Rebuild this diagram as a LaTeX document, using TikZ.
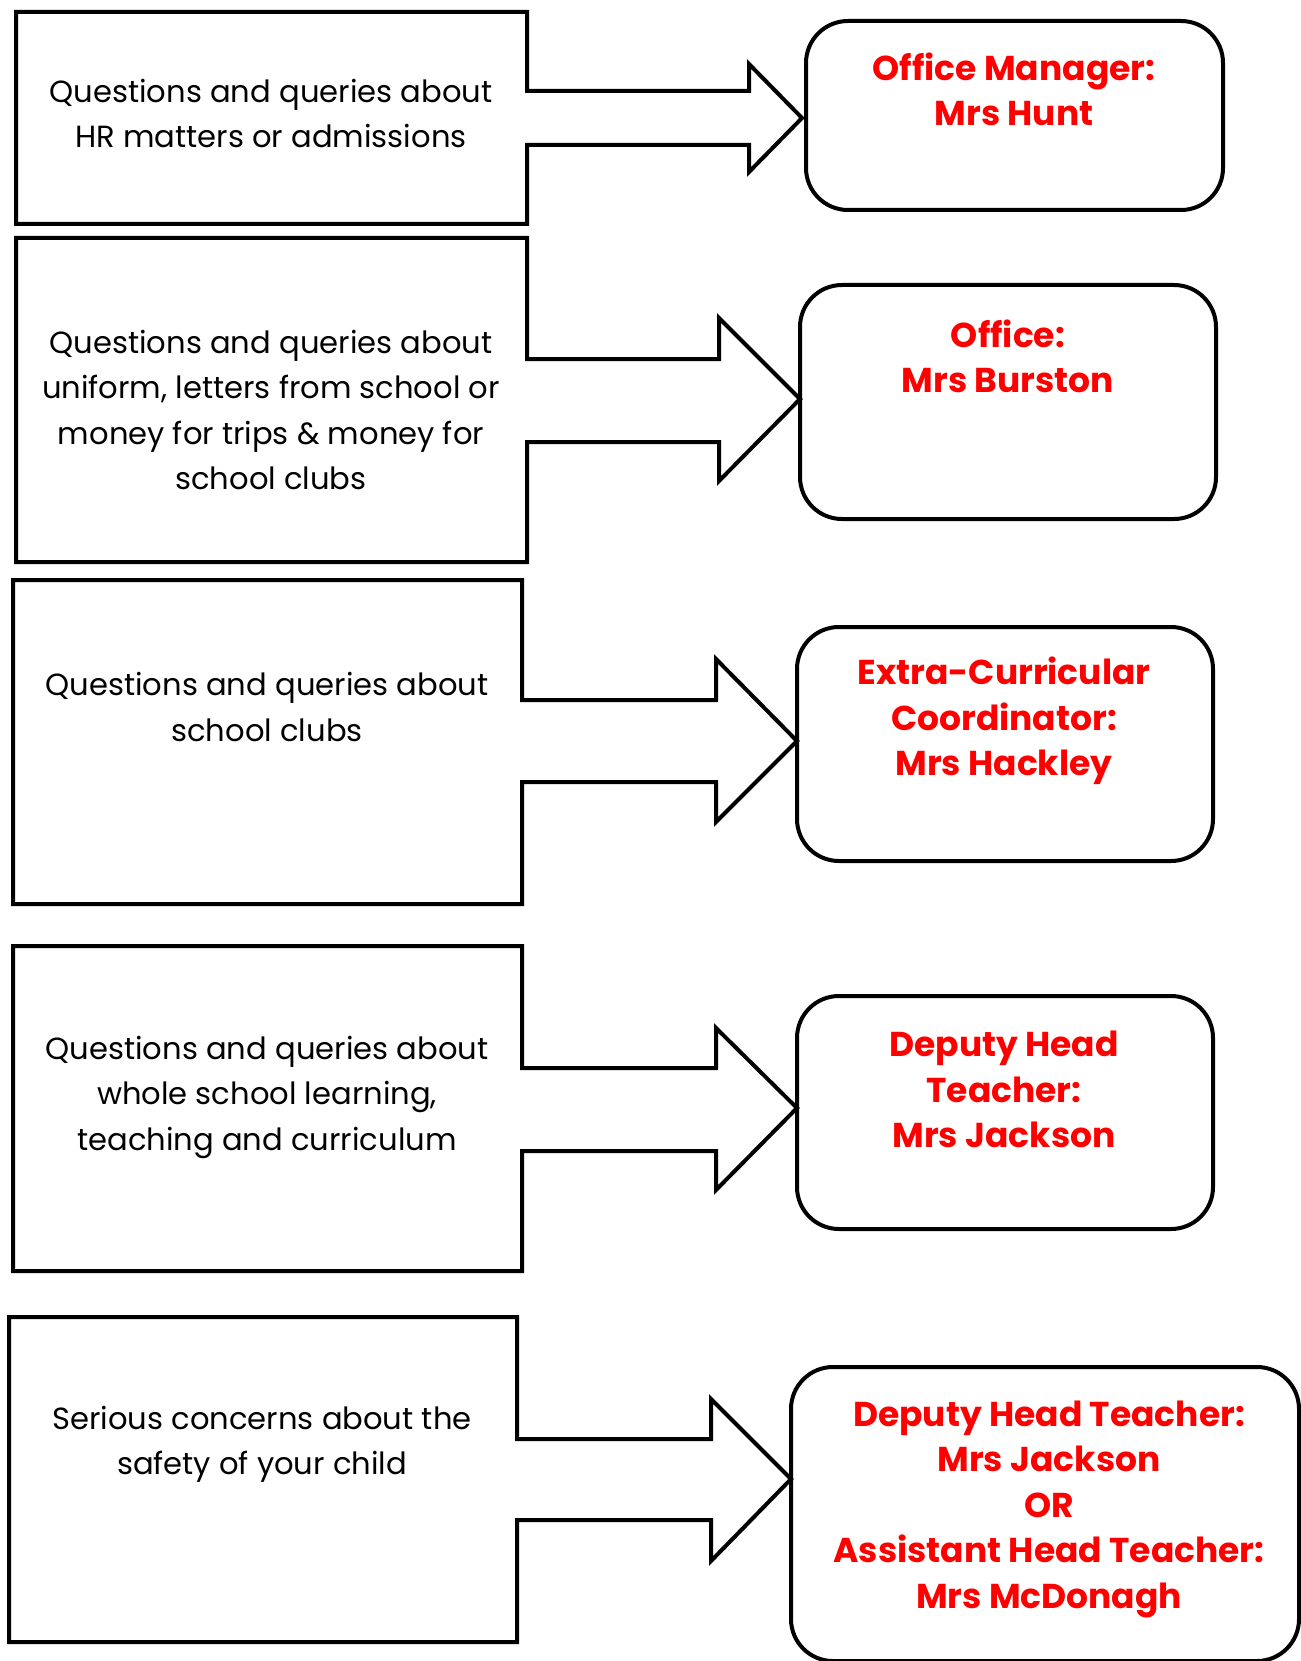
\documentclass[tikz,border=0pt]{standalone}
\usepackage{fontspec}
\setmainfont{Poppins}
\definecolor{redtxt}{RGB}{255,0,0}
\begin{document}
\begin{tikzpicture}[x=1pt,y=-1pt,
  shapeline/.style={line width=4pt, line join=miter},
  qtext/.style={align=center, font=\fontsize{30.6}{45.5}\selectfont, inner sep=0pt},
  who/.style={align=center, font=\fontsize{34.5}{45.5}\selectfont\bfseries, text=redtxt, inner sep=0pt},
  rbox/.style={draw, line width=4pt, rounded corners=42pt, inner sep=0pt}]
\useasboundingbox (0,0) rectangle (1300,1661);
% callout shapes
\draw[shapeline] (16,12) -- (527,12) -- (527,91) -- (749,91) -- (749,64) -- (802,118) -- (749,172) -- (749,145) -- (527,145) -- (527,224) -- (16,224) -- cycle;
\draw[shapeline] (16,238) -- (527,238) -- (527,359) -- (719,359) -- (719,318) -- (800,399) -- (719,481) -- (719,442) -- (527,442) -- (527,562) -- (16,562) -- cycle;
\draw[shapeline] (13,580) -- (522,580) -- (522,700) -- (716,700) -- (716,659) -- (797,741) -- (716,822) -- (716,782) -- (522,782) -- (522,904) -- (13,904) -- cycle;
\draw[shapeline] (13,946) -- (522,946) -- (522,1068) -- (716,1068) -- (716,1028) -- (797,1108) -- (716,1190) -- (716,1151) -- (522,1151) -- (522,1271) -- (13,1271) -- cycle;
\draw[shapeline] (9,1317) -- (517,1317) -- (517,1439) -- (711,1439) -- (711,1399) -- (791,1479) -- (711,1561) -- (711,1520) -- (517,1520) -- (517,1642) -- (9,1642) -- cycle;
% question texts
\node[qtext] (q1) at (271,113.5) {Questions and queries about\\HR matters or admissions};
\node[qtext] (q2) at (271,410) {Questions and queries about\\uniform, letters from school or\\money for trips \& money for\\school clubs};
\node[qtext] (q3) at (267,707) {Questions and queries about\\school clubs};
\node[qtext] (q4) at (267,1097) {Questions and queries about\\whole school learning,\\teaching and curriculum};
\node[qtext] (q5) at (262,1444.5) {Serious concerns about the\\safety of your child};
% rounded boxes
\node[rbox, minimum width=417pt, minimum height=189pt] (b1) at (1014.5,115.5) {};
\node[rbox, minimum width=416pt, minimum height=234pt] (b2) at (1008,402) {};
\node[rbox, minimum width=416pt, minimum height=234pt] (b3) at (1005,744) {};
\node[rbox, minimum width=416pt, minimum height=233pt] (b4) at (1005,1112.5) {};
\node[rbox, minimum width=508pt, minimum height=294pt] (b5) at (1045,1514) {};
% contact texts
\node[who] (t1) at (1014,89.5) {Office Manager:\\Mrs Hunt};
\node[who] (t2) at (1008,356.5) {Office:\\Mrs Burston};
\node[who] (t3) at (1004,721) {Extra-Curricular\\Coordinator:\\Mrs Hackley};
\node[who] (t4) at (1004,1089.5) {Deputy Head\\Teacher:\\Mrs Jackson};
\node[who] (t5) at (1049,1509) {Deputy Head Teacher:\\Mrs Jackson\\OR\\Assistant Head Teacher:\\Mrs McDonagh};
\end{tikzpicture}
\end{document}
